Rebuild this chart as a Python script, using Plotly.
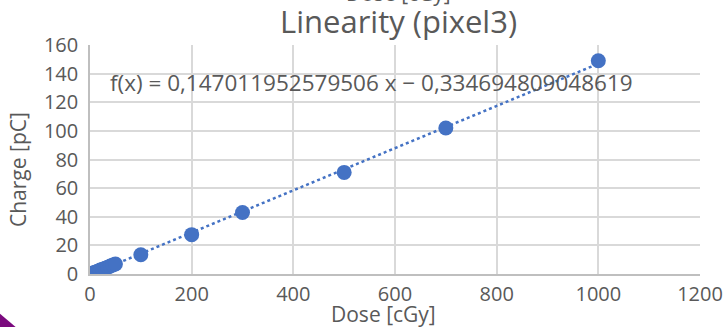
import numpy as np
import plotly.graph_objects as go

dose = [1, 2, 5, 10, 15, 20, 25, 30, 35, 40, 45, 50, 100, 200, 300, 500, 700, 1000]
charge = [0.1, 0.3, 0.7, 1.3, 2.0, 2.8, 3.4, 4.1, 4.8, 5.6, 6.3, 7.0, 13.5, 27.5, 43, 71, 102, 149]
x_ticks = [0, 200, 400, 600, 800, 1000, 1200]
y_ticks = [0, 20, 40, 60, 80, 100, 120, 140, 160]

slope, intercept = np.polyfit(dose, charge, 1)
trend_x = [0, 1000]
trend_y = [slope * v + intercept for v in trend_x]

FONT = "'Open Sans', sans-serif"
GREY = "#595959"
BLUE = "#4472C4"

L, R, T, B = 90, 24, 45, 53
W, H = 724, 327
PW, PH = W - L - R, H - T - B


def px(xp):
    return (xp - L) / PW


def py(yp):
    return (H - B - yp) / PH


fig = go.Figure()
fig.add_trace(go.Scatter(x=trend_x, y=trend_y, mode="lines",
                         line=dict(color=BLUE, width=2.5, dash="dot"),
                         hoverinfo="skip", showlegend=False))
fig.add_trace(go.Scatter(x=dose, y=charge, mode="markers",
                         marker=dict(color=BLUE, size=15), showlegend=False))

fig.update_layout(
    width=W, height=H,
    margin=dict(l=L, r=R, t=T, b=B, autoexpand=False),
    paper_bgcolor="white", plot_bgcolor="white",
    font=dict(family=FONT, color=GREY, size=21),
    xaxis=dict(range=[0, 1200], tickvals=x_ticks, showgrid=True, gridcolor="#D9D9D9",
               gridwidth=1.5, showline=True, linecolor="#BFBFBF", linewidth=1.5,
               zeroline=False, ticks="", ticklabelstandoff=1,
               tickfont=dict(size=20, color=GREY), automargin=False),
    yaxis=dict(range=[0, 160], tickvals=y_ticks, showgrid=True, gridcolor="#D9D9D9",
               gridwidth=1.5, showline=True, linecolor="#BFBFBF", linewidth=1.5,
               zeroline=False, ticks="", ticklabelstandoff=6,
               tickfont=dict(size=20, color=GREY), automargin=False),
)

fig.add_annotation(x=px(398), xref="paper", y=py(21), yref="paper",
                   xanchor="center", yanchor="middle", showarrow=False,
                   text="Linearity (pixel3)", font=dict(size=31, color=GREY, family=FONT))

fig.add_annotation(x=px(383), xref="paper", y=py(314), yref="paper",
                   xanchor="center", yanchor="middle", showarrow=False,
                   text="Dose [cGy]", font=dict(size=21, color=GREY, family=FONT))

fig.add_annotation(x=px(18), xref="paper", y=py(170), yref="paper",
                   xanchor="center", yanchor="middle", showarrow=False, textangle=-90,
                   text="Charge [pC]", font=dict(size=21, color=GREY, family=FONT))

fig.add_annotation(
    x=px(108), xref="paper", y=py(82), yref="paper",
    xanchor="left", yanchor="middle", showarrow=False,
    text="f(x) = 0,147011952579506 x − 0,334694809048619",
    font=dict(size=22.5, color=GREY, family=FONT))

# clipped top label remnant
fig.add_annotation(x=px(398), xref="paper", y=py(9), yref="paper",
                   xanchor="center", yanchor="bottom", showarrow=False,
                   text="Dose [cGy]", font=dict(size=21, color=GREY, family=FONT))

# purple corner triangle
fig.add_shape(type="path", xref="paper", yref="paper",
              path=f"M {px(-2)} {py(312)} L {px(18)} {py(329)} L {px(-2)} {py(329)} Z",
              fillcolor="#7B0A7E", line=dict(width=0), layer="above")

fig.write_html("out.html",
               config={"displayModeBar": False},
               post_script="document.body.style.margin='0';document.body.style.overflow='hidden';")
